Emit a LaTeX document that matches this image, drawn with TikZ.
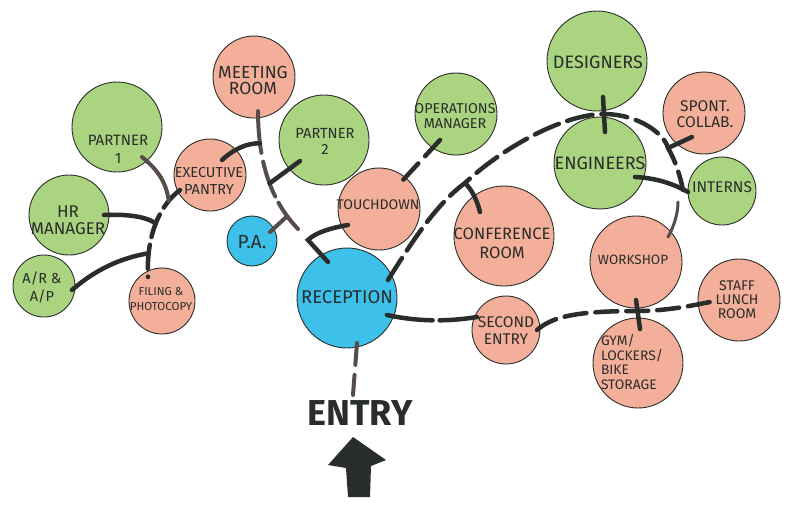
\documentclass[tikz,border=0pt]{standalone}
\usepackage{fontspec}
\setmainfont{Fira Sans}
\usetikzlibrary{calc}
\definecolor{grn}{HTML}{ABD481}
\definecolor{sal}{HTML}{F4AF9A}
\definecolor{blu}{HTML}{3DC0EA}
\definecolor{ink}{HTML}{2A2E2B}
\definecolor{inkb}{HTML}{564C4A}
\begin{document}
\begin{tikzpicture}[x=1pt,y=-1pt,
 bub/.style={circle,draw=ink,line width=0.9pt,inner sep=0pt,minimum size=#1},
 gb/.style={bub=#1,fill=grn}, sb/.style={bub=#1,fill=sal}, bb/.style={bub=#1,fill=blu},
 lbl/.style={align=center,text=ink,inner sep=0pt},
 fs/.style 2 args={font=\fontsize{#1}{#2}\selectfont},
 link/.style={draw=ink,line width=4.5pt,line cap=round},
 dlink/.style={link,dash pattern=on 26pt off 9pt},
 glink/.style={draw=inkb,line width=4pt,line cap=round},
]
\fill[white] (0,0) rectangle (792,504);
\useasboundingbox (0,0) rectangle (792,504);
% bubbles
\node[sb=82pt] (mr) at (254,77) {};
\node[gb=90pt] (p1) at (117,127) {};
\node[gb=80pt] (hr) at (69,215) {};
\node[gb=62pt] (ar) at (44,286) {};
\node[sb=66pt] (fp) at (162,301) {};
\node[sb=72pt] (ep) at (210,175) {};
\node[bb=50pt] (pa) at (252,241) {};
\node[gb=90pt] (p2) at (324,140) {};
\node[gb=82pt] (om) at (456,114) {};
\node[sb=82pt] (td) at (379,209) {};
\node[sb=100pt] (cr) at (504,236) {};
\node[bb=100pt] (rc) at (347,298) {};
\node[sb=68pt] (se) at (506,330) {};
\node[gb=100pt] (de) at (597,61) {};
\node[gb=92pt] (en) at (600,163) {};
\node[sb=82pt] (sc) at (704,113) {};
\node[gb=68pt] (in) at (722,191) {};
\node[sb=92pt] (ws) at (636,262) {};
\node[sb=82pt] (sl) at (739,300) {};
\node[sb=90pt] (gy) at (638,363) {};
% labels
\node[lbl,fs={17.5}{16}] (mrt) at (253,80) {MEETING\\ROOM};
\node[lbl,fs={15}{18}] (p1t) at (118,149) {PARTNER\\1};
\node[lbl,fs={17}{17}] (hrt) at (68,220) {HR\\MANAGER};
\node[lbl,fs={14.5}{18}] (art) at (42,287) {A/R \&\\A/P};
\node[lbl,fs={11.5}{15}] (fpt) at (161,299) {FILING \&\\PHOTOCOPY};
\node[lbl,fs={14.5}{17}] (ept) at (209,181) {EXECUTIVE\\PANTRY};
\node[lbl,fs={19}{19}] (pat) at (252,242) {P.A.};
\node[lbl,fs={14.7}{16}] (p2t) at (325,141) {PARTNER\\2};
\node[lbl,fs={14.3}{15}] (omt) at (455,116) {OPERATIONS\\MANAGER};
\node[lbl,fs={14}{14}] (tdt) at (378,205) {TOUCHDOWN};
\node[lbl,fs={16.5}{19}] (crt) at (502,243) {CONFERENCE\\ROOM};
\node[lbl,fs={18.5}{18}] (rct) at (347,297) {RECEPTION};
\node[lbl,fs={15.5}{17}] (set) at (506,331) {SECOND\\ENTRY};
\node[lbl,fs={18}{18}] (det) at (598,62) {DESIGNERS};
\node[lbl,fs={18}{18}] (ent) at (600,163) {ENGINEERS};
\node[lbl,fs={15.5}{15.5}] (sct) at (705,114) {SPONT.\\COLLAB.};
\node[lbl,fs={15.5}{15.5}] (int) at (722,187) {INTERNS};
\node[lbl,fs={13.5}{13.5}] (wst) at (633,260) {WORKSHOP};
\node[lbl,fs={14}{14}] (slt) at (737,300) {STAFF\\LUNCH\\ROOM};
\node[lbl,align=left,fs={13.8}{14.5}] (gyt) at (632,362) {GYM/\\LOCKERS/\\BIKE\\STORAGE};
\node[lbl,font=\fontsize{36}{36}\selectfont\bfseries] (entry) at (360,413) {ENTRY};
% left cluster spine
\draw[dlink,dash pattern=on 24pt off 8pt] ([shift={(-30,15)}]ep.center) .. controls (160,205) and (146,235) .. ([shift={(-14,-24)}]fp.center)
  coordinate[pos=0.2] (j1) coordinate[pos=0.5] (j2) coordinate[pos=0.8] (j3);
\draw[glink] ([shift={(25,30)}]p1.center) .. controls (158,170) and (166,182) .. (j1);
\draw[link] ([shift={(35,0)}]hr.center) .. controls (125,214) and (145,216) .. (j2);
\draw[link] ([shift={(28,4)}]ar.center) .. controls (95,270) and (120,258) .. (j3);
% meeting room spine
\draw[glink,dash pattern=on 42pt off 9pt on 37pt off 7pt] ([shift={(4,34)}]mr.center) .. controls (258,160) and (270,200) .. ([shift={(46,-12)}]pa.center)
  coordinate[pos=0.23] (jm1) coordinate[pos=0.55] (jm2) coordinate[pos=0.86] (jm3);
\draw[link] ([shift={(12,-15)}]ep.center) .. controls (235,148) and (248,143) .. (jm1);
\draw[link] ([shift={(-24,21)}]p2.center) -- (jm2);
\draw[glink] ([shift={(18,-9)}]pa.center) -- (jm3);
% touchdown - reception
\coordinate (tdc) at (308,240);
\draw[link] ([shift={(-31,16)}]td.center) .. controls (330,228) and (315,233) .. (tdc) -- ([shift={(-19,-36)}]rc.center);
% operations - touchdown
\draw[dlink,dash pattern=on 22pt off 10pt] ([shift={(-16,26)}]om.center) -- ([shift={(24,-29)}]td.center);
% big curve
\coordinate (jcr) at (465,183);
\coordinate (jde) at (603,114);
\coordinate (jsc) at (668,148);
\coordinate (jin) at (683,190);
\draw[dlink] ([shift={(41,-18)}]rc.center) .. controls (410,245) and (435,205) .. (jcr)
  .. controls (500,150) and (560,115) .. (jde) .. controls (640,114) and (665,135) .. (jsc)
  .. controls (675,160) and (680,175) .. (jin);
\draw[link] ([shift={(-24,-24)}]cr.center) .. controls (477,200) and (472,190) .. (jcr);
\draw[link] ([shift={(6,36)}]de.center) -- ([shift={(5,-31)}]en.center);
\draw[link] ([shift={(-12,24)}]sc.center) -- (jsc);
\draw[link] ([shift={(35,14)}]en.center) .. controls (655,178) and (672,183) .. ([shift={(-34,1)}]in.center);
\draw[glink,line width=3pt] ([shift={(-5,12)}]jin) .. controls (678,215) and (673,228) .. ([shift={(32,-25)}]ws.center);
% reception - second entry - staff lunch
\draw[link,dash pattern=on 46pt off 7pt] ([shift={(40,17)}]rc.center) .. controls (410,320) and (440,323) .. ([shift={(-29,-13)}]se.center);
\coordinate (jws) at (637,311);
\draw[dlink,dash pattern=on 22pt off 9pt] ([shift={(31,0)}]se.center) .. controls (552,317) and (575,311) .. (jws)
  .. controls (665,311) and (690,306) .. ([shift={(-29,2)}]sl.center);
\draw[link] ([shift={(0,38)}]ws.center) -- ([shift={(2,-34)}]gy.center);
% entry
\draw[glink,dash pattern=on 22pt off 10pt] ([shift={(10,45)}]rc.center) -- ([shift={(-7,-18)}]entry.center);
\fill[ink] (353,437) -- (386,460) -- (371,466) -- (370,497) -- (348,497) -- (346,468) -- (328,465) -- cycle;
\end{tikzpicture}
\end{document}
